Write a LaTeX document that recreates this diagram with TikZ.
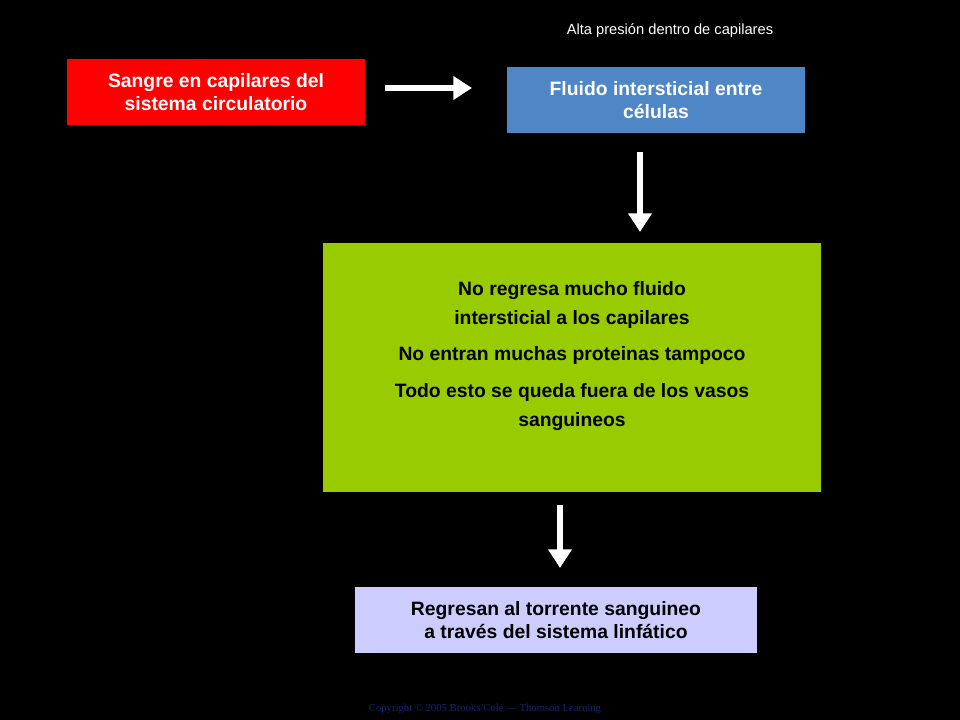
\documentclass[tikz,border=0pt]{standalone}
\usepackage{fontspec}
\setmainfont{Liberation Sans}
\newfontfamily\serifcopy{Liberation Serif}
\usetikzlibrary{arrows.meta}
\begin{document}
\begin{tikzpicture}[x=0.75pt,y=-0.75pt,
  box/.style={draw=none,minimum width={#1},inner sep=0pt,align=center,font=\fontsize{14.5}{17.5}\selectfont\bfseries},
  arr/.style={draw=white,line width=3.8pt,-{Triangle[length=14pt,width=17pt]}}]
\fill[black] (0,0) rectangle (960,720);
\useasboundingbox (0,0) rectangle (960,720);
\fill[red] (67,59) rectangle (365,125);
\node[box=0,text=white] (a) at (216,92) {Sangre en capilares del\\ sistema circulatorio};
\fill[fill={rgb,255:red,79;green,134;blue,198}] (507,67) rectangle (805,133);
\node[box=0,text=white] (b) at (656,100) {Fluido intersticial entre\\ células};
\fill[fill={rgb,255:red,153;green,204;blue,0}] (323,243) rectangle (821,492);
\node[box=0,text=black,font=\fontsize{14.5}{21.5}\selectfont\bfseries] (c) at (572,356) {No regresa mucho fluido\\ intersticial a los capilares\\[6pt] No entran muchas proteinas tampoco\\[6pt] Todo esto se queda fuera de los vasos\\ sanguineos};
\fill[fill={rgb,255:red,204;green,204;blue,255}] (355,587) rectangle (757,653);
\node[box=0,text=black] (d) at (556,620) {Regresan al torrente sanguineo\\ a través del sistema linfático};
\node[text=white,font=\fontsize{11}{13}\selectfont] (t) at (670,31) {Alta presión dentro de capilares};
\node[text={rgb,255:red,20;green,40;blue,110},font=\serifcopy\fontsize{8}{10}\selectfont] (cp) at (485,709) {Copyright © 2005 Brooks/Cole — Thomson Learning};
\coordinate (a1) at (385,88); \coordinate (a2) at (472,88);
\coordinate (b1) at (640,152); \coordinate (b2) at (640,232);
\coordinate (c1) at (560,505); \coordinate (c2) at (560,568);
\draw[arr] (a1) -- (a2);
\draw[arr] (b1) -- (b2);
\draw[arr] (c1) -- (c2);
\end{tikzpicture}
\end{document}
